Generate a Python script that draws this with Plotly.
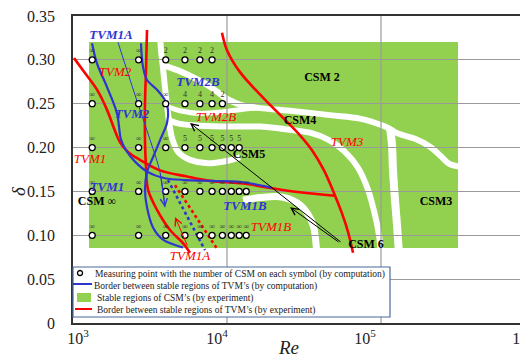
import math
import plotly.graph_objects as go

# ---------------- data ----------------
point_re = [1333, 2667, 4000, 5333, 6667, 8000, 9333, 10667, 12000, 13333]
row_deltas = [0.30, 0.25, 0.20, 0.15, 0.10]
csm_row_030 = ['∞', '∞', '2', '2', '2', '2']
csm_row_025 = ['∞', '∞', '∞', '4', '4', '4', '2']
csm_row_020 = ['∞', '∞', '∞', '5', '5', '5', '5', '5', '5']
csm_row_015 = ['∞'] * 10
csm_row_010 = ['∞'] * 10
csm_rows = [csm_row_030, csm_row_025, csm_row_020, csm_row_015, csm_row_010]

# experimental TVM borders (red)
tvm1_exp_re = [1015, 1196, 1431, 1663, 1846, 2020, 2276, 2723, 3673, 5499, 7755, 12704, 19020, 29790, 50270]
tvm1_exp_d = [0.302, 0.285, 0.266, 0.243, 0.222, 0.206, 0.195, 0.186, 0.174, 0.167, 0.162, 0.159, 0.154, 0.149, 0.145]
tvm1a_exp_re = [3024, 2979, 2934, 2934, 2979, 3069, 3512, 4265, 5180, 5751]
tvm1a_exp_d = [0.334, 0.288, 0.251, 0.209, 0.178, 0.152, 0.129, 0.106, 0.091, 0.080]
tvm3_exp_re = [9279, 10000, 12145, 17130, 23100, 29790, 35640, 42650, 49530, 55820, 61070, 65820]
tvm3_exp_d = [0.331, 0.311, 0.286, 0.257, 0.234, 0.214, 0.197, 0.174, 0.148, 0.125, 0.104, 0.080]
dotted_exp_re = [4596, 8741]
dotted_exp_d = [0.157, 0.083]

# computed TVM borders (blue)
tvm1_comp_re = [1329, 1431, 1663, 1931, 2050, 2209, 2527, 3069, 3958, 5499, 7755, 12145, 16378, 19598]
tvm1_comp_d = [0.319, 0.296, 0.269, 0.239, 0.209, 0.197, 0.184, 0.172, 0.165, 0.163, 0.162, 0.161, 0.157, 0.154]
tvm2_comp_re = [2764, 2848, 3024, 3512, 3958, 4139, 4077, 3727, 3307, 3024, 2934, 3024, 3307, 3840, 4596, 5180]
tvm2_comp_d = [0.319, 0.292, 0.277, 0.266, 0.254, 0.243, 0.228, 0.211, 0.189, 0.172, 0.152, 0.132, 0.109, 0.095, 0.089, 0.086]
tvm2_arrow_re = [1960, 2527, 3162, 3673, 3958]
tvm2_arrow_d = [0.320, 0.260, 0.209, 0.172, 0.132]
dotted_comp_re = [4139, 7196]
dotted_comp_d = [0.163, 0.083]

# stable CSM region (experiment) and the unstable gaps between them
csm_region_re = [1270, 316200]
csm_region_d = [0.0855, 0.3204]
gap_trunk_re = [3673, 3727, 3840, 3958, 4077, 4201, 4395, 4808, 5751, 7525, 10151, 12145]
gap_trunk_d = [0.331, 0.311, 0.291, 0.268, 0.249, 0.230, 0.211, 0.195, 0.186, 0.182, 0.185, 0.189]
gap_c1_re = [3840, 4808, 6198, 7992, 9705, 12145, 16378, 25660, 46650, 73030, 106170, 128940, 166300, 208100, 248900, 280600, 351200]
gap_c1_d = [0.294, 0.288, 0.279, 0.268, 0.257, 0.249, 0.245, 0.242, 0.237, 0.233, 0.224, 0.216, 0.210, 0.201, 0.189, 0.181, 0.177]
gap_c1b_re = [114400, 117870, 119650, 123280, 127020, 130880]
gap_c1b_d = [0.222, 0.203, 0.174, 0.140, 0.112, 0.078]
gap_c2a_re = [4077, 4953, 6678, 9705, 13089, 15900]
gap_c2a_d = [0.247, 0.242, 0.239, 0.241, 0.244, 0.245]
gap_c2_re = [4201, 4953, 6678, 10459, 16378, 23810, 34590, 46650, 58390, 70880, 82340, 91420, 97050, 100000]
gap_c2_d = [0.231, 0.227, 0.225, 0.224, 0.224, 0.221, 0.217, 0.208, 0.195, 0.177, 0.152, 0.123, 0.100, 0.078]
gap_c3_re = [12704, 16378, 22100, 28480, 33570, 36730, 38410]
gap_c3_d = [0.140, 0.143, 0.144, 0.137, 0.124, 0.108, 0.078]

# region labels
blue_label_text = ['TVM1A', 'TVM2', 'TVM2B', 'TVM1', 'TVM1B']
blue_label_re = [1765, 2416, 6481, 1663, 13089]
blue_label_d = [0.328, 0.237, 0.274, 0.154, 0.132]
red_label_text = ['TVM2', 'TVM2B', 'TVM1', 'TVM1B', 'TVM1A', 'TVM3']
red_label_re = [1874, 8484, 1290, 19310, 5751, 60170]
red_label_d = [0.285, 0.234, 0.186, 0.109, 0.075, 0.206]
csm_label_text = ['<b>CSM 2</b>', '<b>CSM4</b>', '<b>CSM5</b>', '<b>CSM3</b>', '<b>CSM 6</b>', '<b>CSM</b> ∞']
csm_label_re = [41400, 29800, 13900, 227600, 79900, 1431]
csm_label_d = [0.279, 0.230, 0.192, 0.138, 0.089, 0.138]

# arrows: (tip Re, tip delta, tail Re, tail delta)
arrow_red = (4596, 0.1208, 5582, 0.0866)
arrow_blue = (3958, 0.132, 3673, 0.172)
arrow_black_1 = (5751, 0.228, 55820, 0.0912)
arrow_black_2 = (25660, 0.132, 54170, 0.0912)

x_tick_vals = [1077, 8610, 78700, 835000]
x_tick_text = ['10<sup>3</sup>', '10<sup>4</sup>', '10<sup>5</sup>', '10<sup>6</sup>']
y_tick_vals = [0, 0.05, 0.10, 0.15, 0.20, 0.25, 0.30, 0.35]
y_tick_text = ['0', '0.05', '0.10', '0.15', '0.20', '0.25', '0.30', '0.35']
decade_grid = [1e4, 1e5]

legend_texts = [
    'Measuring point with the number of CSM on each symbol (by computation)',
    'Border between stable regions of TVM’s (by computation)',
    'Stable regions of CSM’s (by experiment)',
    'Border between stable regions of TVM’s (by experiment)',
]

# ---------------- styles ----------------
GREEN = '#92D050'
RED = '#FF0000'
BLUE = '#2F35D0'
FONT = 'Liberation Serif'


def smooth_path(res, ds):
    lx = [math.log10(r) for r in res]
    pts = list(zip(lx, ds))
    s = 'M {},{}'.format(10 ** pts[0][0], pts[0][1])
    n = len(pts)
    for i in range(n - 1):
        p0 = pts[i - 1] if i > 0 else pts[i]
        p1 = pts[i]
        p2 = pts[i + 1]
        p3 = pts[i + 2] if i + 2 < n else pts[i + 1]
        c1 = (p1[0] + (p2[0] - p0[0]) / 6, p1[1] + (p2[1] - p0[1]) / 6)
        c2 = (p2[0] - (p3[0] - p1[0]) / 6, p2[1] - (p3[1] - p1[1]) / 6)
        s += ' C {},{} {},{} {},{}'.format(10 ** c1[0], c1[1], 10 ** c2[0], c2[1], 10 ** p2[0], p2[1])
    return s


fig = go.Figure()

shapes = []
shapes.append(dict(type='rect', xref='x', yref='y', x0=csm_region_re[0], x1=csm_region_re[1],
                   y0=csm_region_d[0], y1=csm_region_d[1], fillcolor=GREEN, line=dict(width=0), layer='below'))
for gre, gd, w in [(gap_trunk_re, gap_trunk_d, 6), (gap_c1_re, gap_c1_d, 6), (gap_c1b_re, gap_c1b_d, 8),
                   (gap_c2a_re, gap_c2a_d, 5), (gap_c2_re, gap_c2_d, 6), (gap_c3_re, gap_c3_d, 7)]:
    shapes.append(dict(type='path', xref='x', yref='y', path=smooth_path(gre, gd),
                       line=dict(color='white', width=w), layer='below'))
for g in decade_grid:
    shapes.append(dict(type='line', xref='x', yref='y', x0=g, x1=g, y0=0, y1=0.35,
                       line=dict(color='#9a9a9a', width=1.2), layer='below'))

# legend (drawn manually, in paper coords)
shapes.append(dict(type='rect', xref='paper', yref='paper', x0=0, x1=0.6967, y0=0.0195, y1=0.1824,
                   fillcolor='white', line=dict(color='#4A6B9C', width=1.2), layer='above'))
shapes.append(dict(type='circle', xref='paper', yref='paper', x0=0.0099, x1=0.0209, y0=0.1547, y1=0.1710,
                   fillcolor='white', line=dict(color='black', width=1.3), layer='above'))
shapes.append(dict(type='line', xref='paper', yref='paper', x0=0.0, x1=0.0418, y0=0.127, y1=0.127,
                   line=dict(color=BLUE, width=2), layer='above'))
shapes.append(dict(type='rect', xref='paper', yref='paper', x0=0.0088, x1=0.0396, y0=0.0684, y1=0.0977,
                   fillcolor=GREEN, line=dict(width=0), layer='above'))
shapes.append(dict(type='line', xref='paper', yref='paper', x0=0.0044, x1=0.0418, y0=0.0456, y1=0.0456,
                   line=dict(color=RED, width=2), layer='above'))

# lines
for xr, yd, col, w in [(tvm1_exp_re, tvm1_exp_d, RED, 2.6), (tvm1a_exp_re, tvm1a_exp_d, RED, 2.6),
                       (tvm3_exp_re, tvm3_exp_d, RED, 2.6),
                       (tvm1_comp_re, tvm1_comp_d, BLUE, 2.2), (tvm2_comp_re, tvm2_comp_d, BLUE, 2.2)]:
    fig.add_trace(go.Scatter(x=xr, y=yd, mode='lines', line=dict(color=col, width=w, shape='spline'),
                             showlegend=False, hoverinfo='skip'))
fig.add_trace(go.Scatter(x=tvm2_arrow_re, y=tvm2_arrow_d, mode='lines',
                         line=dict(color=BLUE, width=1, shape='spline'), showlegend=False, hoverinfo='skip'))
fig.add_trace(go.Scatter(x=dotted_comp_re, y=dotted_comp_d, mode='lines',
                         line=dict(color=BLUE, width=2.6, dash='dot'), showlegend=False, hoverinfo='skip'))
fig.add_trace(go.Scatter(x=dotted_exp_re, y=dotted_exp_d, mode='lines',
                         line=dict(color=RED, width=2.6, dash='dot'), showlegend=False, hoverinfo='skip'))

# measuring points
px, py, pt = [], [], []
for d, labels in zip(row_deltas, csm_rows):
    for re_v, lab in zip(point_re, labels):
        px.append(re_v)
        py.append(d)
        pt.append(lab)
fig.add_trace(go.Scatter(x=px, y=py, mode='markers+text', text=pt, textposition='top center',
                         textfont=dict(family=FONT, size=8, color='#333'),
                         marker=dict(symbol='circle', size=6, color='white', line=dict(color='black', width=1.3)),
                         showlegend=False, hoverinfo='skip', cliponaxis=False))

# labels
fig.add_trace(go.Scatter(x=blue_label_re, y=blue_label_d, mode='text',
                         text=['<b><i>' + t + '</i></b>' for t in blue_label_text],
                         textfont=dict(family=FONT, size=13, color=BLUE), showlegend=False,
                         hoverinfo='skip', cliponaxis=False))
fig.add_trace(go.Scatter(x=red_label_re, y=red_label_d, mode='text',
                         text=['<i>' + t + '</i>' for t in red_label_text],
                         textfont=dict(family=FONT, size=13, color=RED), showlegend=False,
                         hoverinfo='skip', cliponaxis=False))
fig.add_trace(go.Scatter(x=csm_label_re, y=csm_label_d, mode='text', text=csm_label_text,
                         textfont=dict(family=FONT, size=12, color='black'), showlegend=False,
                         hoverinfo='skip', cliponaxis=False))

annotations = []
for (tre, td, are, ad), col in [(arrow_red, RED), (arrow_blue, BLUE),
                                (arrow_black_1, 'black'), (arrow_black_2, 'black')]:
    annotations.append(dict(x=math.log10(tre), y=td, ax=math.log10(are), ay=ad, xref='x', yref='y',
                            axref='x', ayref='y', text='', showarrow=True, arrowhead=5, arrowsize=1.4,
                            arrowwidth=1, arrowcolor=col, standoff=0))

legend_pos = [(0.044, 0.1596), (0.0418, 0.1205), (0.0484, 0.0814), (0.0484, 0.0423)]
for (lxp, lyp), t in zip(legend_pos, legend_texts):
    annotations.append(dict(x=lxp, y=lyp, xref='paper', yref='paper', text=t, showarrow=False,
                            xanchor='left', yanchor='middle', font=dict(family=FONT, size=9.5, color='#222')))

annotations.append(dict(x=0.4747, y=-0.08, xref='paper', yref='paper', text='<i>Re</i>', showarrow=False,
                        xanchor='center', yanchor='middle', font=dict(family=FONT, size=19, color='#222')))
annotations.append(dict(x=-0.1187, y=0.43, xref='paper', yref='paper', text='<i>δ</i>', showarrow=False,
                        textangle=-90, xanchor='center', yanchor='middle',
                        font=dict(family=FONT, size=19, color='#222')))

fig.update_layout(
    template='none',
    width=520, height=347,
    margin=dict(l=65, r=0, t=8, b=32, pad=0),
    paper_bgcolor='white', plot_bgcolor='white',
    shapes=shapes, annotations=annotations,
    showlegend=False,
    xaxis=dict(type='log', range=[3, 5.9545], showgrid=False, zeroline=False,
               tickvals=x_tick_vals, ticktext=x_tick_text, ticks='', ticklabeloverflow='allow',
               tickfont=dict(family=FONT, size=16, color='#222'),
               showline=True, linecolor='#333', linewidth=1.6, mirror=True, automargin=False),
    yaxis=dict(range=[0, 0.35001], tickvals=y_tick_vals, ticktext=y_tick_text, showgrid=True,
               gridcolor='#9a9a9a', gridwidth=1.2, zeroline=False, ticks='outside', ticklen=13,
               ticklabeloverflow='allow',
               tickcolor='rgba(0,0,0,0)', tickfont=dict(family=FONT, size=16, color='#222'),
               showline=True, linecolor='#333', linewidth=1.6, mirror=False, automargin=False),
)

fig.write_html('out.html')
